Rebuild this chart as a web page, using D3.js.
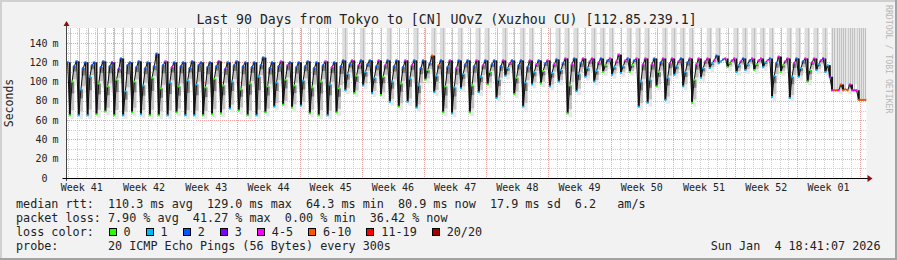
<!DOCTYPE html>
<html lang="en">
<head>
<meta charset="UTF-8">
<title>Last 90 Days from Tokyo</title>
<style>
  body { margin: 0; background: #f2f2f2; }
  svg text { font-family: "DejaVu Sans Mono", monospace; white-space: pre; }
</style>
</head>
<body>
<svg id="chart"></svg>
<script src="https://cdnjs.cloudflare.com/ajax/libs/d3/7.8.5/d3.min.js"></script>
<script>
var width = 897, height = 260;

// one entry per day, 4 samples a day (6h each): top, dip, recovery 1, recovery 2
var dayTop = [120,121,120,120,121,120,124,120,121,120,129,121,120,120,121,120,120,121,120,121,120,120,125,120,121,120,120,121,120,121,120,
  122,122,122,122,122,122,122,122,122,122,127,122,122,122,122,122,122,122,122,122,122,122,122,122,123,
  124,124,124,124,124,124,128,124,124,124,124,124,124,124,124,124,124,127,124,124,124,124,124,124,126,124,124,124,124,124,
  91,97,97,81];
var dayMin = [65,65,65,66,69,65,65,68,66,65,65,65,68,65,65,65,66,67,72,70,65,65,68,74,76,73,75,67,65,65,68,
  91,88,96,88,86,79,74,79,73,102,89,68,67,93,68,89,97,83,106,87,74,97,98,95,100,
  67,90,105,100,110,107,109,110,74,78,95,81,107,95,78,104,114,119,115,110,112,112,115,84,110,83,105,100,112,110,
  91,91,91,81];
var dayRise1 = [100,92,105,98,95,102,90,100,96,104,93,99,95,101,97,94,103,96,100,92,98,105,95,99,102,96,101,94,100,97,93,
  108,106,110,104,105,100,98,103,96,112,106,95,94,108,96,105,110,102,114,104,99,110,111,109,112,
  96,108,114,111,117,115,116,117,100,102,110,104,116,110,102,114,119,121,119,117,118,118,120,106,117,105,114,112,118,117,
  91,92,91,81];
var dayRise2 = [116,114,117,115,116,113,117,115,114,116,117,115,116,114,117,115,116,113,117,116,115,117,114,116,117,115,116,114,117,115,116,
  118,117,118,116,117,116,115,117,114,119,117,115,114,118,116,117,118,116,119,117,115,118,119,118,119,
  118,119,121,120,122,121,122,122,118,118,120,119,121,120,118,121,122,123,122,121,122,122,122,119,121,119,121,120,122,105,
  91,91,91,81];
// loss class (index into lossLabels) at the top and in the dip
var lossTop = [2,2,2,2,2,3,2,2,2,2,2,4,2,2,2,2,2,3,2,2,2,2,2,2,4,2,2,2,2,4,2,
  2,4,2,2,4,2,2,4,2,2,5,2,4,2,2,4,2,2,4,2,2,4,2,4,2,
  4,2,4,4,2,4,4,2,4,4,2,4,4,2,4,4,4,2,4,4,2,4,4,2,4,4,2,4,4,3,
  4,5,4,5];
var lossLow = [0,1,1,0,0,0,1,0,1,0,0,1,0,1,1,0,0,0,1,0,0,1,0,1,0,0,1,0,0,1,0,
  1,0,1,1,0,1,0,1,1,0,1,0,1,1,0,1,0,1,1,0,1,1,0,1,1,
  0,1,1,1,0,1,1,0,1,1,0,1,1,1,0,1,1,1,0,1,1,0,1,1,0,1,1,0,1,1,
  5,5,4,5];
// pings above the top of the graph that day: 0 none, 1 a few, 2 many, 3 most
var maxOff = [1,1,1,1,1,1,1,1,1,1,1,1,1,1,1,1,1,1,1,1,1,1,1,1,1,1,1,1,1,1,1,
  2,1,2,1,1,2,1,1,2,1,2,2,1,2,1,2,2,1,2,1,2,2,1,1,2,
  2,2,1,2,2,2,1,2,2,2,1,2,2,2,2,1,2,2,1,2,2,2,2,2,1,2,2,2,2,2,
  3,3,3,3];

var yTicks = [0,20,40,60,80,100,120,140];
var lossLabels = ["0","1","2","3","4-5","6-10","11-19","20/20"];
var lossColors = ["#26ff00","#00b8ff","#0059ff","#7e00ff","#ff00ff","#ff5500","#ff0000","#a10000"];
var rttStats = [110.3, 129.0, 64.3, 80.9, 17.9];
var lossStats = [7.90, 41.27, 0.00, 36.42];
var amPerSec = 6.2;

var svg = d3.select("#chart").attr("width", width).attr("height", height);

// frame
svg.append("rect").attr("width", width).attr("height", height).attr("fill", "#f2f2f2");
svg.append("path").attr("d", "M1,259V1H896").attr("fill", "none").attr("stroke", "#d0d0d0").attr("stroke-width", 2);
svg.append("path").attr("d", "M0,259H896V0").attr("fill", "none").attr("stroke", "#a3a3a3").attr("stroke-width", 2);

var x0 = 66.5, x1 = 866.5, yTop = 28, yBot = 178;
var start = new Date(Date.UTC(2025, 9, 6, 18, 41, 7));
var end = new Date(Date.UTC(2026, 0, 4, 18, 41, 7));
var x = d3.scaleUtc().domain([start, end]).range([x0, x1]);
var y = d3.scaleLinear().domain([0, 155.6]).range([yBot, yTop]);

svg.append("rect").attr("x", x0).attr("y", yTop).attr("width", x1 - x0).attr("height", yBot - yTop).attr("fill", "#fff");

// samples
var step = 6 * 3600 * 1000;
var samples = [];
dayTop.forEach(function(t, k) {
  var vals = [t, dayMin[k], dayRise1[k], dayRise2[k]];
  var loss = [lossTop[k], lossLow[k], lossLow[k], lossTop[k]];
  vals.forEach(function(v, j) {
    var i = k * 4 + j;
    samples.push({
      t0: new Date(+start + i * step), t1: new Date(+start + (i + 1) * step),
      tm: new Date(+start + (i + 0.5) * step), v: v, loss: loss[j], day: k, j: j
    });
  });
});
samples.forEach(function(s, i) {
  var p = samples[Math.max(0, i - 1)].v;
  s.lo = Math.min(p, s.v);
  s.hi = Math.max(p, s.v);
  s.down = s.v < p;
});

// grid, under the data
var grid = svg.append("g").attr("stroke-dasharray", "1,1").attr("shape-rendering", "crispEdges");
d3.range(0, 156, 10).filter(function(v) { return v % 20; }).forEach(function(v) {
  grid.append("line").attr("x1", x0).attr("x2", x1).attr("y1", Math.round(y(v)) + 0.5).attr("y2", Math.round(y(v)) + 0.5).attr("stroke", "#cfcfcf");
});
d3.utcDay.range(start, end).forEach(function(d) {
  if (d.getUTCDay() === 0) return;
  grid.append("line").attr("x1", Math.round(x(d)) + 0.5).attr("x2", Math.round(x(d)) + 0.5).attr("y1", yTop).attr("y2", yBot).attr("stroke", "#cfcfcf");
});
yTicks.slice(1).forEach(function(v) {
  grid.append("line").attr("x1", x0).attr("x2", x1).attr("y1", Math.round(y(v)) + 0.5).attr("y2", Math.round(y(v)) + 0.5).attr("stroke", "#f2a0a0");
});
d3.utcSunday.range(start, end).forEach(function(d) {
  grid.append("line").attr("x1", Math.round(x(d)) + 0.5).attr("x2", Math.round(x(d)) + 0.5).attr("y1", yTop).attr("y2", yBot).attr("stroke", "#f2a0a0");
});

var plot = svg.append("g");

// off-scale pings
maxOff.forEach(function(lvl, k) {
  var dip = samples[k * 4 + 1];
  var lx = Math.round(x(dip.tm)) + 0.5;
  if (lvl === 1) {
    plot.append("line").attr("x1", lx).attr("x2", lx)
      .attr("y1", yTop).attr("y2", y(dayTop[k])).attr("stroke", "#c4c4c4");
  } else if (lvl === 2) {
    plot.append("rect").attr("x", x(dip.t0) - 2).attr("width", x(samples[k * 4 + 2].t1) - x(dip.t0) + 1)
      .attr("y", yTop).attr("height", y(dayTop[k]) - yTop).attr("fill", "#dcdcdc");
    plot.append("line").attr("x1", lx).attr("x2", lx)
      .attr("y1", yTop).attr("y2", y(dayTop[k])).attr("stroke", "#c0c0c0");
  } else if (lvl === 3) {
    var s0 = samples[k * 4], s3 = samples[k * 4 + 3];
    plot.append("rect").attr("x", x(s0.t0)).attr("width", x(s3.t1) - x(s0.t0))
      .attr("y", yTop).attr("height", y(dayTop[k]) - yTop).attr("fill", "#e4e4e4");
    for (var j = 0; j < 4; j++) {
      var s = samples[k * 4 + j];
      plot.append("line").attr("x1", Math.round(x(s.tm)) + 0.5).attr("x2", Math.round(x(s.tm)) + 0.5)
        .attr("y1", yTop).attr("y2", y(s.v)).attr("stroke", "#c0c0c0");
    }
  }
});

// smoke: light on the way up, solid where the rtt drops
var smoke = plot.append("g");
var rising = samples.filter(function(d) { return !d.down && d.hi - d.lo > 2; });
function band(cls, fill, loF, hiF) {
  smoke.selectAll("." + cls).data(rising).join("rect")
    .attr("class", cls)
    .attr("x", function(d) { return x(d.t0) - 0.5; })
    .attr("width", function(d) { return x(d.t1) - x(d.t0) + 1.5; })
    .attr("y", function(d) { return y(hiF(d)); })
    .attr("height", function(d) { return Math.max(0, y(loF(d)) - y(hiF(d))); })
    .attr("fill", fill);
}
band("outer", "#e8e8e8", function(d) { return d.lo - 4; }, function(d) { return d.hi; });
band("mid", "#c2c2c2", function(d) { return d.lo + (d.hi - d.lo) * 0.15; }, function(d) { return d.hi - (d.hi - d.lo) * 0.1; });
band("inner", "#808080", function(d) { return d.v - (d.v - d.lo) * 0.35; }, function(d) { return d.v; });
smoke.selectAll(".drop").data(samples.filter(function(d) { return d.down && d.hi - d.lo > 2; })).join("rect")
  .attr("class", "drop")
  .attr("x", function(d) { return x(d.tm) - 1; })
  .attr("width", 2)
  .attr("y", function(d) { return y(d.hi); })
  .attr("height", function(d) { return y(d.lo) - y(d.hi); })
  .attr("fill", "#151515");

// median
plot.append("path").datum(samples)
  .attr("d", d3.line().x(function(d) { return x(d.tm); }).y(function(d) { return y(d.v); }))
  .attr("fill", "none").attr("stroke", "#111").attr("stroke-width", 1);
plot.selectAll(".dot").data(samples).join("rect")
  .attr("x", function(d) { return x(d.tm) - 1; })
  .attr("y", function(d) { return y(d.v) - 1; })
  .attr("width", 2).attr("height", 2)
  .attr("fill", function(d) { return lossColors[d.loss]; });

// axes
svg.append("line").attr("x1", x0).attr("x2", x0).attr("y1", 24).attr("y2", yBot + 3).attr("stroke", "#444");
svg.append("line").attr("x1", x0 - 4).attr("x2", x1 + 2).attr("y1", yBot + 0.5).attr("y2", yBot + 0.5).attr("stroke", "#000");
svg.append("path").attr("d", "M" + (x0 - 3) + ",26L" + x0 + ",21L" + (x0 + 3) + ",26Z").attr("fill", "#8b1010");
svg.append("path").attr("d", "M" + (x1 + 1) + "," + (yBot - 3) + "L" + (x1 + 6) + "," + (yBot + 0.5) + "L" + (x1 + 1) + "," + (yBot + 4) + "Z").attr("fill", "#8b1010");

// y labels
var ylab = svg.append("g").attr("font-size", 10).attr("fill", "#222");
yTicks.forEach(function(v) {
  ylab.append("text").attr("x", 47.5).attr("y", y(v) + 3.5).attr("text-anchor", "end").text(v);
  if (v) ylab.append("text").attr("x", 52.5).attr("y", y(v) + 3.5).text("m");
});
svg.append("text").attr("transform", "translate(13,103) rotate(-90)").attr("text-anchor", "middle")
  .attr("font-size", 11.5).attr("fill", "#222").text("Seconds");

// x labels
var fmtWeek = d3.utcFormat("Week %V");
d3.utcSunday.range(d3.utcSunday.floor(start), end).forEach(function(d) {
  var c = new Date(+d + 3.5 * 864e5);
  if (c > end) return;
  svg.append("text").attr("x", x(c)).attr("y", 190.5).attr("text-anchor", "middle")
    .attr("font-size", 10).attr("fill", "#222").text(fmtWeek(c));
});

// title and side note
svg.append("text").attr("x", 446.5).attr("y", 24).attr("text-anchor", "middle")
  .attr("font-size", 13.2).attr("fill", "#222").text("Last 90 Days from Tokyo to [CN] UOvZ (Xuzhou CU) [112.85.239.1]");
svg.append("text").attr("transform", "translate(886,5) rotate(90)")
  .attr("font-size", 8.2).attr("fill", "#b8b8b8").text("RRDTOOL / TOBI OETIKER");

// legend
var f1 = d3.format(".1f"), f2 = d3.format(".2f");
var leg = svg.append("g").attr("font-size", 11.75).attr("fill", "#222");
var rowY = [208.2, 222, 235.8, 249.6];
leg.append("text").attr("x", 16).attr("y", rowY[0]).text(
  "median rtt:  " + f1(rttStats[0]) + " ms avg  " + f1(rttStats[1]) + " ms max  " + f1(rttStats[2]) +
  " ms min  " + f1(rttStats[3]) + " ms now  " + f1(rttStats[4]) + " ms sd  " + f1(amPerSec) + "   am/s");
leg.append("text").attr("x", 16).attr("y", rowY[1]).text(
  "packet loss: " + f2(lossStats[0]) + " % avg  " + f2(lossStats[1]) + " % max  " + f2(lossStats[2]) +
  " % min  " + f2(lossStats[3]) + " % now");
leg.append("text").attr("x", 16).attr("y", rowY[2]).text("loss color:");
var lx = 108.5;
lossLabels.forEach(function(l, i) {
  leg.append("rect").attr("x", lx + 0.5).attr("y", rowY[2] - 7.5).attr("width", 7).attr("height", 7)
    .attr("fill", lossColors[i]).attr("stroke", "#000").attr("shape-rendering", "crispEdges");
  var t = leg.append("text").attr("x", lx + 15).attr("y", rowY[2]).text(l);
  lx += 15 + t.node().getComputedTextLength() + 15;
});
leg.append("text").attr("x", 16).attr("y", rowY[3]).text("probe:       20 ICMP Echo Pings (56 Bytes) every 300s");
leg.append("text").attr("x", 880.5).attr("y", rowY[3]).attr("text-anchor", "end").text("Sun Jan  4 18:41:07 2026");
</script>
</body>
</html>
